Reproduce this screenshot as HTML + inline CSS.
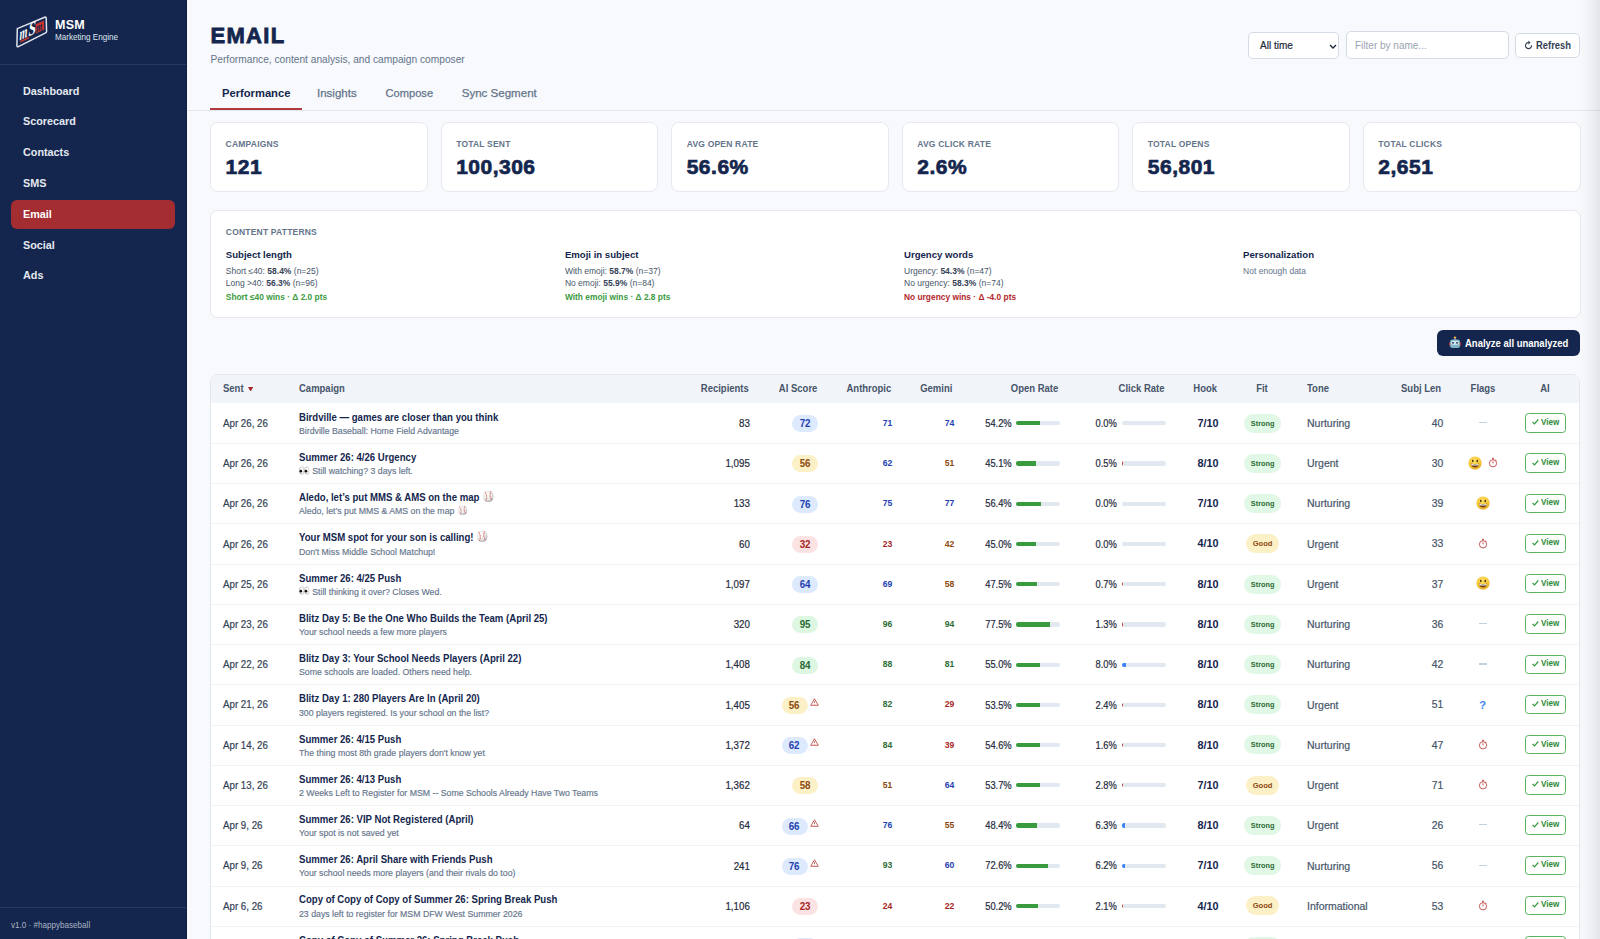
<!DOCTYPE html><html><head><meta charset="utf-8"><style>
*{box-sizing:border-box;margin:0;padding:0}
html,body{width:1600px;height:939px;overflow:hidden}
body{background:#f7f9fc;font-family:"Liberation Sans", sans-serif;position:relative;color:#1e293b}
.a{position:absolute;white-space:nowrap}
.sb{position:absolute;left:0;top:0;width:187px;height:939px;background:#14264d;border-right:1px solid #0f1f42}
.nav{position:absolute;left:11px;width:164px;height:29px;border-radius:6px;color:#e4e9f1;font-weight:700;font-size:10.8px}
.nav span{position:absolute;left:12px}
.nav.act{background:#a42d31;color:#fff}
.card{position:absolute;background:#fff;border:1px solid #e6eaf0;border-radius:8px}
.lbl{font-size:8.5px;font-weight:700;letter-spacing:0.2px;color:#64748b}
.val{font-size:21px;font-weight:700;letter-spacing:0.5px;color:#14264d;-webkit-text-stroke:0.7px #14264d}
.pt{font-size:9.6px;font-weight:700;color:#14264d}
.pl{font-size:8.5px;color:#475569}
.pl b{color:#334155}
.th{font-size:9.5px;font-weight:700;color:#475569}
.r{text-align:right}
</style></head><body>
<div class="sb"></div>
<svg class="a" style="left:0;top:0" width="60" height="60" viewBox="0 0 60 60">
<path d="M17.3 28.6 L44.6 17.2 Q46 16.8 46.2 18.2 L46.6 31.4 Q46.6 32.4 45.6 32.8 L18.4 46.6 Q16.8 47.3 16.9 45.6 Z" fill="#14264d" stroke="#dfe4ee" stroke-width="1.5" stroke-linejoin="round"/>
<text transform="translate(19.6,40.5) skewY(-26) scale(0.85,1.45)" font-family="Liberation Serif" font-style="italic" font-weight="700" font-size="12" fill="#fff">m</text>
<text transform="translate(28.6,36.5) skewY(-26) scale(0.8,1.1)" font-family="Liberation Serif" font-style="italic" font-weight="700" font-size="17" fill="#fff">S</text>
<path d="M35.6 24.2 L44 20.4 L44.3 29.6 L35.9 33.6 Z" fill="#c8352e"/>
<text transform="translate(36,32.2) skewY(-26) scale(0.8,1.2)" font-family="Liberation Serif" font-style="italic" font-weight="700" font-size="10" fill="#14264d">m</text>
<path d="M20.5 40.8 L29.5 36.4 L29 38.4 L20.2 42.8 Z" fill="#c8352e"/>
</svg>
<div class="a " style="left:55.00px;top:18.62px;font-size:12.5px;line-height:12.5px;color:#fff;font-weight:700;letter-spacing:0.3px">MSM</div>
<div class="a " style="left:55.00px;top:33.29px;font-size:8.748px;line-height:8.748px;transform:scaleX(0.9259);transform-origin:0 50%;color:#dfe5ee">Marketing Engine</div>
<div class="a" style="left:0;top:64px;width:186px;height:1px;background:#2a3a5e"></div>
<div class="nav" style="top:76.80px"><span style="top:8.76px;line-height:10.8px">Dashboard</span></div>
<div class="nav" style="top:107.60px"><span style="top:8.76px;line-height:10.8px">Scorecard</span></div>
<div class="nav" style="top:138.40px"><span style="top:8.76px;line-height:10.8px">Contacts</span></div>
<div class="nav" style="top:169.20px"><span style="top:8.76px;line-height:10.8px">SMS</span></div>
<div class="nav act" style="top:200.00px"><span style="top:8.76px;line-height:10.8px">Email</span></div>
<div class="nav" style="top:230.80px"><span style="top:8.76px;line-height:10.8px">Social</span></div>
<div class="nav" style="top:261.60px"><span style="top:8.76px;line-height:10.8px">Ads</span></div>
<div class="a" style="left:0;top:907px;width:186px;height:1px;background:#2a3a5e"></div>
<div class="a " style="left:11.00px;top:920.72px;font-size:9.072px;line-height:9.072px;transform:scaleX(0.8929);transform-origin:0 50%;color:#aab3c5">v1.0 · #happybaseball</div>
<div class="a " style="left:210.50px;top:25.28px;font-size:22.0px;line-height:22.0px;font-weight:700;color:#14264d;letter-spacing:1.3px;-webkit-text-stroke:0.8px #14264d">EMAIL</div>
<div class="a " style="left:210.50px;top:55.07px;font-size:10.2px;line-height:10.2px;color:#64748b">Performance, content analysis, and campaign composer</div>
<div class="a" style="left:1248px;top:32px;width:91px;height:26.5px;background:#fff;border:1px solid #d5dbe5;border-radius:5px"></div>
<div class="a " style="left:1260.00px;top:40.53px;font-size:10.0px;line-height:10.0px;color:#1e293b;-webkit-text-stroke:0.2px #1e293b">All time</div>
<svg class="a" style="left:1328.8px;top:43.6px" width="8" height="5" viewBox="0 0 8 5"><path d="M1 1 L4 4 L7 1" fill="none" stroke="#1e293b" stroke-width="1.4"/></svg>
<div class="a" style="left:1345.5px;top:31.2px;width:163.5px;height:28px;background:#fff;border:1px solid #d5dbe5;border-radius:5px"></div>
<div class="a " style="left:1355.00px;top:40.53px;font-size:10.0px;line-height:10.0px;color:#9aa3b2">Filter by name...</div>
<div class="a" style="left:1515px;top:33px;width:65px;height:24.5px;background:#fff;border:1px solid #d5dbe5;border-radius:5px"></div>
<svg class="a" style="left:1524px;top:40px" width="10" height="10" viewBox="0 0 10 10"><path d="M4.6 2.6 A3 3 0 1 0 7.5 5.3" fill="none" stroke="#334155" stroke-width="1.15"/><path d="M4.3 0.5 L6.5 2.6 L4.3 4.7 Z" fill="#334155"/></svg>
<div class="a " style="left:1535.80px;top:41.29px;font-size:10.058px;line-height:10.058px;transform:scaleX(0.9346);transform-origin:0 50%;color:#334155;font-weight:700">Refresh</div>
<div class="a" style="left:187px;top:110px;width:1413px;height:1px;background:#e3e7ee"></div>
<div class="a" style="left:210.3px;top:108px;width:92px;height:2px;background:#b03a3e"></div>
<div class="a " style="left:222.00px;top:88.02px;font-size:11.2px;line-height:11.2px;font-weight:700;color:#14264d">Performance</div>
<div class="a " style="left:317.00px;top:87.77px;font-size:11.5px;line-height:11.5px;color:#64748b;-webkit-text-stroke:0.25px #64748b">Insights</div>
<div class="a " style="left:385.60px;top:88.10px;font-size:11.1px;line-height:11.1px;color:#64748b;-webkit-text-stroke:0.25px #64748b">Compose</div>
<div class="a " style="left:461.70px;top:87.72px;font-size:11.55px;line-height:11.55px;color:#64748b;-webkit-text-stroke:0.25px #64748b">Sync Segment</div>
<div class="card" style="left:210.00px;top:122.2px;width:217.75px;height:70.2px"></div>
<div class="a lbl" style="left:225.60px;top:139.70px;font-size:8.5px;line-height:8.5px;">CAMPAIGNS</div>
<div class="a val" style="left:225.60px;top:155.97px;font-size:21.0px;line-height:21.0px;">121</div>
<div class="card" style="left:440.55px;top:122.2px;width:217.75px;height:70.2px"></div>
<div class="a lbl" style="left:456.15px;top:139.70px;font-size:8.5px;line-height:8.5px;">TOTAL SENT</div>
<div class="a val" style="left:456.15px;top:155.97px;font-size:21.0px;line-height:21.0px;">100,306</div>
<div class="card" style="left:671.10px;top:122.2px;width:217.75px;height:70.2px"></div>
<div class="a lbl" style="left:686.70px;top:139.70px;font-size:8.5px;line-height:8.5px;">AVG OPEN RATE</div>
<div class="a val" style="left:686.70px;top:155.97px;font-size:21.0px;line-height:21.0px;">56.6%</div>
<div class="card" style="left:901.65px;top:122.2px;width:217.75px;height:70.2px"></div>
<div class="a lbl" style="left:917.25px;top:139.70px;font-size:8.5px;line-height:8.5px;">AVG CLICK RATE</div>
<div class="a val" style="left:917.25px;top:155.97px;font-size:21.0px;line-height:21.0px;">2.6%</div>
<div class="card" style="left:1132.20px;top:122.2px;width:217.75px;height:70.2px"></div>
<div class="a lbl" style="left:1147.80px;top:139.70px;font-size:8.5px;line-height:8.5px;">TOTAL OPENS</div>
<div class="a val" style="left:1147.80px;top:155.97px;font-size:21.0px;line-height:21.0px;">56,801</div>
<div class="card" style="left:1362.75px;top:122.2px;width:217.75px;height:70.2px"></div>
<div class="a lbl" style="left:1378.35px;top:139.70px;font-size:8.5px;line-height:8.5px;">TOTAL CLICKS</div>
<div class="a val" style="left:1378.35px;top:155.97px;font-size:21.0px;line-height:21.0px;">2,651</div>
<div class="card" style="left:210px;top:210px;width:1370.5px;height:107.8px"></div>
<div class="a lbl" style="left:225.80px;top:227.80px;font-size:8.5px;line-height:8.5px;">CONTENT PATTERNS</div>
<div class="a pt" style="left:225.80px;top:249.77px;font-size:9.6px;line-height:9.6px;">Subject length</div>
<div class="a pl" style="left:225.80px;top:266.90px;font-size:8.5px;line-height:8.5px;color:#475569">Short ≤40: <b>58.4%</b> (n=25)</div>
<div class="a pl" style="left:225.80px;top:278.50px;font-size:8.5px;line-height:8.5px;color:#475569">Long &gt;40: <b>56.3%</b> (n=96)</div>
<div class="a " style="left:225.80px;top:292.89px;font-size:8.4px;line-height:8.4px;font-weight:700;color:#3a9b3e">Short ≤40 wins · Δ 2.0 pts</div>
<div class="a pt" style="left:564.90px;top:249.77px;font-size:9.6px;line-height:9.6px;">Emoji in subject</div>
<div class="a pl" style="left:564.90px;top:266.90px;font-size:8.5px;line-height:8.5px;color:#475569">With emoji: <b>58.7%</b> (n=37)</div>
<div class="a pl" style="left:564.90px;top:278.50px;font-size:8.5px;line-height:8.5px;color:#475569">No emoji: <b>55.9%</b> (n=84)</div>
<div class="a " style="left:564.90px;top:292.89px;font-size:8.4px;line-height:8.4px;font-weight:700;color:#3a9b3e">With emoji wins · Δ 2.8 pts</div>
<div class="a pt" style="left:904.00px;top:249.77px;font-size:9.6px;line-height:9.6px;">Urgency words</div>
<div class="a pl" style="left:904.00px;top:266.90px;font-size:8.5px;line-height:8.5px;color:#475569">Urgency: <b>54.3%</b> (n=47)</div>
<div class="a pl" style="left:904.00px;top:278.50px;font-size:8.5px;line-height:8.5px;color:#475569">No urgency: <b>58.3%</b> (n=74)</div>
<div class="a " style="left:904.00px;top:292.89px;font-size:8.4px;line-height:8.4px;font-weight:700;color:#b3262b">No urgency wins · Δ -4.0 pts</div>
<div class="a pt" style="left:1243.10px;top:249.77px;font-size:9.6px;line-height:9.6px;">Personalization</div>
<div class="a pl" style="left:1243.10px;top:266.90px;font-size:8.5px;line-height:8.5px;color:#64748b">Not enough data</div>
<div class="a" style="left:1437px;top:330px;width:143px;height:26px;background:#14264d;border-radius:6px"></div>
<svg class="a" style="left:1449px;top:336px" width="12" height="13" viewBox="0 0 12 13">
<circle cx="6" cy="1.6" r="1.2" fill="#f5b73b"/><rect x="5.5" y="2" width="1" height="2" fill="#9aa"/>
<rect x="1" y="3.5" width="10" height="8.5" rx="2.5" fill="#7fb5c9"/><rect x="2.2" y="4.8" width="7.6" height="4" rx="1.5" fill="#cfe6ef"/>
<circle cx="4" cy="6.8" r="0.9" fill="#14264d"/><circle cx="8" cy="6.8" r="0.9" fill="#14264d"/><rect x="0" y="6.5" width="1.2" height="3" fill="#c0392b"/><rect x="10.8" y="6.5" width="1.2" height="3" fill="#c0392b"/></svg>
<div class="a " style="left:1464.70px;top:338.61px;font-size:10.26px;line-height:10.26px;transform:scaleX(0.9259);transform-origin:0 50%;color:#fff;font-weight:700">Analyze all unanalyzed</div>
<div class="a" style="left:210px;top:374.0px;width:1369.5px;height:575.0px;background:#fff;border:1px solid #e3e8ef;border-radius:8px;overflow:hidden"><div style="height:28.3px;background:#f1f4f9"></div></div>
<div class="a th" style="left:222.90px;top:383.75px;font-size:10.45px;line-height:10.45px;transform:scaleX(0.9091);transform-origin:0 50%;">Sent</div>
<svg class="a" style="left:248px;top:386.8px" width="5.2" height="4.6" viewBox="0 0 5.2 4.6"><path d="M0 0 H5.2 L2.6 4.6 Z" fill="#a52626"/></svg>
<div class="a th" style="left:299.00px;top:383.75px;font-size:10.45px;line-height:10.45px;transform:scaleX(0.9091);transform-origin:0 50%;">Campaign</div>
<div class="a th" style="right:851.40px;top:383.75px;font-size:10.45px;line-height:10.45px;transform:scaleX(0.9091);transform-origin:100% 50%;">Recipients</div>
<div class="a th" style="right:783.00px;top:383.75px;font-size:10.45px;line-height:10.45px;transform:scaleX(0.9091);transform-origin:100% 50%;">AI Score</div>
<div class="a th" style="right:709.00px;top:383.75px;font-size:10.45px;line-height:10.45px;transform:scaleX(0.9091);transform-origin:100% 50%;">Anthropic</div>
<div class="a th" style="right:647.50px;top:383.75px;font-size:10.45px;line-height:10.45px;transform:scaleX(0.9091);transform-origin:100% 50%;">Gemini</div>
<div class="a th" style="right:541.50px;top:383.75px;font-size:10.45px;line-height:10.45px;transform:scaleX(0.9091);transform-origin:100% 50%;">Open Rate</div>
<div class="a th" style="right:436.00px;top:383.75px;font-size:10.45px;line-height:10.45px;transform:scaleX(0.9091);transform-origin:100% 50%;">Click Rate</div>
<div class="a th" style="right:383.00px;top:383.75px;font-size:10.45px;line-height:10.45px;transform:scaleX(0.9091);transform-origin:100% 50%;">Hook</div>
<div class="a th" style="left:1232.00px;width:60px;text-align:center;top:383.75px;font-size:10.45px;line-height:10.45px;transform:scaleX(0.9091);transform-origin:50% 50%;">Fit</div>
<div class="a th" style="left:1307.00px;top:383.75px;font-size:10.45px;line-height:10.45px;transform:scaleX(0.9091);transform-origin:0 50%;">Tone</div>
<div class="a th" style="right:158.70px;top:383.75px;font-size:10.45px;line-height:10.45px;transform:scaleX(0.9091);transform-origin:100% 50%;">Subj Len</div>
<div class="a th" style="left:1453.00px;width:60px;text-align:center;top:383.75px;font-size:10.45px;line-height:10.45px;transform:scaleX(0.9091);transform-origin:50% 50%;">Flags</div>
<div class="a th" style="left:1515.30px;width:60px;text-align:center;top:383.75px;font-size:10.45px;line-height:10.45px;transform:scaleX(0.9091);transform-origin:50% 50%;">AI</div>
<div class="a " style="left:222.90px;top:417.82px;font-size:10.725px;line-height:10.725px;transform:scaleX(0.9091);transform-origin:0 50%;color:#334155;-webkit-text-stroke:0.2px #334155">Apr 26, 26</div>
<div class="a " style="left:299.00px;top:410.71px;font-size:10.656px;line-height:12px;transform:scaleX(0.9009);transform-origin:0 50%;font-weight:700;color:#14264d">Birdville — games are closer than you think</div>
<div class="a " style="left:299.00px;top:425.95px;font-size:9.1px;line-height:11px;transform:scaleX(0.9615);transform-origin:0 50%;color:#64748b;-webkit-text-stroke:0.15px #64748b">Birdville Baseball: Home Field Advantage</div>
<div class="a " style="right:849.80px;top:418.02px;font-size:10.725px;line-height:10.725px;transform:scaleX(0.9091);transform-origin:100% 50%;color:#1e293b;-webkit-text-stroke:0.2px #1e293b">83</div>
<div class="a" style="left:792.40px;top:415.22px;width:26px;height:17px;border-radius:8.5px;background:#dde9fd;color:#1f3fae;font-size:11px;font-weight:700;line-height:17px;text-align:center"><span style="display:inline-block;transform:scaleX(0.89)">72</span></div>
<div class="a " style="right:707.50px;top:418.84px;font-size:9.288px;line-height:9.288px;transform:scaleX(0.9259);transform-origin:100% 50%;font-weight:700;color:#2340b0">71</div>
<div class="a " style="right:646.00px;top:418.84px;font-size:9.288px;line-height:9.288px;transform:scaleX(0.9259);transform-origin:100% 50%;font-weight:700;color:#2340b0">74</div>
<div class="a " style="right:588.70px;top:418.94px;font-size:10.472px;line-height:10.472px;transform:scaleX(0.8929);transform-origin:100% 50%;color:#1e293b;-webkit-text-stroke:0.2px #1e293b">54.2%</div>
<div class="a" style="left:1016.2px;top:421.12px;width:44px;height:4.3px;border-radius:2.2px;background:#e2e8f0;overflow:hidden"><div style="width:23.85px;height:100%;background:#3a9b3e"></div></div>
<div class="a " style="right:482.70px;top:418.94px;font-size:10.472px;line-height:10.472px;transform:scaleX(0.8929);transform-origin:100% 50%;color:#1e293b;-webkit-text-stroke:0.2px #1e293b">0.0%</div>
<div class="a" style="left:1122px;top:421.12px;width:44px;height:4.3px;border-radius:2.2px;background:#e2e8f0;overflow:hidden"><div style="width:0.00px;height:100%;background:#c0392b"></div></div>
<div class="a " style="right:381.60px;top:417.76px;font-size:10.8px;line-height:10.8px;font-weight:700;color:#14264d">7/10</div>
<div class="a" style="left:1244px;top:413.62px;width:37.2px;height:19px;border-radius:9.5px;background:#e0f8e5;color:#2c6b34;font-size:7.3px;font-weight:700;line-height:19px;text-align:center">Strong</div>
<div class="a " style="left:1307.00px;top:418.01px;font-size:10.5px;line-height:10.5px;color:#475569;-webkit-text-stroke:0.2px #475569">Nurturing</div>
<div class="a " style="right:156.80px;top:418.80px;font-size:10.4px;line-height:10.4px;color:#475569;-webkit-text-stroke:0.2px #475569">40</div>
<div class="a" style="left:1479px;top:422.02px;width:8px;height:1.2px;background:#c5cfdc"></div>
<div class="a" style="left:1525.2px;top:413.12px;width:40.6px;height:19.4px;border:1px solid #5cb25f;border-radius:3.5px"></div>
<svg class="a" style="left:1531.8px;top:419.42px" width="7" height="6" viewBox="0 0 7 6"><path d="M0.6 3.0 L2.5 4.9 L6.3 0.5" fill="none" stroke="#3a9a40" stroke-width="1.25"/></svg>
<div class="a " style="left:1541.00px;top:417.71px;font-size:8.748px;line-height:8.748px;transform:scaleX(0.9259);transform-origin:0 50%;font-weight:700;color:#2e8b36">View</div>
<div class="a" style="left:211px;top:443.03px;width:1367.5px;height:1px;background:#eff2f6"></div>
<div class="a " style="left:222.90px;top:458.05px;font-size:10.725px;line-height:10.725px;transform:scaleX(0.9091);transform-origin:0 50%;color:#334155;-webkit-text-stroke:0.2px #334155">Apr 26, 26</div>
<div class="a " style="left:299.00px;top:450.94px;font-size:10.656px;line-height:12px;transform:scaleX(0.9009);transform-origin:0 50%;font-weight:700;color:#14264d">Summer 26: 4/26 Urgency</div>
<div class="a " style="left:299.00px;top:466.18px;font-size:9.1px;line-height:11px;transform:scaleX(0.9615);transform-origin:0 50%;color:#64748b;-webkit-text-stroke:0.15px #64748b"><span style="display:inline-block;width:11.2px;height:1px;position:relative"><svg width="11" height="9" viewBox="0 0 11 9" style="position:absolute;left:0;top:-7.6px"><defs><radialGradient id="eg" cx="0.6" cy="0.35" r="0.75"><stop offset="0" stop-color="#fff"/><stop offset="0.75" stop-color="#f1f1f1"/><stop offset="1" stop-color="#bdbdbd"/></radialGradient></defs><ellipse cx="2.8" cy="4.5" rx="2.5" ry="3.9" fill="url(#eg)" stroke="#9e9e9e" stroke-width="0.45"/><ellipse cx="8.2" cy="4.5" rx="2.5" ry="3.9" fill="url(#eg)" stroke="#9e9e9e" stroke-width="0.45"/><circle cx="1.9" cy="5.2" r="1.35" fill="#1c120a"/><circle cx="7.3" cy="5.2" r="1.35" fill="#1c120a"/></svg></span> Still watching? 3 days left.</div>
<div class="a " style="right:849.80px;top:458.25px;font-size:10.725px;line-height:10.725px;transform:scaleX(0.9091);transform-origin:100% 50%;color:#1e293b;-webkit-text-stroke:0.2px #1e293b">1,095</div>
<div class="a" style="left:792.40px;top:455.45px;width:26px;height:17px;border-radius:8.5px;background:#fcf0c6;color:#8b4a12;font-size:11px;font-weight:700;line-height:17px;text-align:center"><span style="display:inline-block;transform:scaleX(0.89)">56</span></div>
<div class="a " style="right:707.50px;top:459.07px;font-size:9.288px;line-height:9.288px;transform:scaleX(0.9259);transform-origin:100% 50%;font-weight:700;color:#2340b0">62</div>
<div class="a " style="right:646.00px;top:459.07px;font-size:9.288px;line-height:9.288px;transform:scaleX(0.9259);transform-origin:100% 50%;font-weight:700;color:#8b4a12">51</div>
<div class="a " style="right:588.70px;top:459.17px;font-size:10.472px;line-height:10.472px;transform:scaleX(0.8929);transform-origin:100% 50%;color:#1e293b;-webkit-text-stroke:0.2px #1e293b">45.1%</div>
<div class="a" style="left:1016.2px;top:461.35px;width:44px;height:4.3px;border-radius:2.2px;background:#e2e8f0;overflow:hidden"><div style="width:19.84px;height:100%;background:#3a9b3e"></div></div>
<div class="a " style="right:482.70px;top:459.17px;font-size:10.472px;line-height:10.472px;transform:scaleX(0.8929);transform-origin:100% 50%;color:#1e293b;-webkit-text-stroke:0.2px #1e293b">0.5%</div>
<div class="a" style="left:1122px;top:461.35px;width:44px;height:4.3px;border-radius:2.2px;background:#e2e8f0;overflow:hidden"><div style="width:1.20px;height:100%;background:#c0392b"></div></div>
<div class="a " style="right:381.60px;top:457.99px;font-size:10.8px;line-height:10.8px;font-weight:700;color:#14264d">8/10</div>
<div class="a" style="left:1244px;top:453.85px;width:37.2px;height:19px;border-radius:9.5px;background:#e0f8e5;color:#2c6b34;font-size:7.3px;font-weight:700;line-height:19px;text-align:center">Strong</div>
<div class="a " style="left:1307.00px;top:458.24px;font-size:10.5px;line-height:10.5px;color:#475569;-webkit-text-stroke:0.2px #475569">Urgent</div>
<div class="a " style="right:156.80px;top:459.03px;font-size:10.4px;line-height:10.4px;color:#475569;-webkit-text-stroke:0.2px #475569">30</div>
<div class="a" style="left:1468.2px;top:455.65px;line-height:0"><svg width="14" height="14" viewBox="0 0 14 14"><defs><radialGradient id="sg" cx="0.45" cy="0.35" r="0.7"><stop offset="0" stop-color="#ffe26a"/><stop offset="0.7" stop-color="#f6c431"/><stop offset="1" stop-color="#e09a1a"/></radialGradient></defs><circle cx="7" cy="7" r="6.6" fill="url(#sg)"/><ellipse cx="4.8" cy="5" rx="0.9" ry="1.3" fill="#5a3a10"/><ellipse cx="9.2" cy="5" rx="0.9" ry="1.3" fill="#5a3a10"/><path d="M2.8 7.6 Q7 8.6 11.2 7.6 Q10.6 11.6 7 11.6 Q3.4 11.6 2.8 7.6 Z" fill="#6b3d12"/><path d="M3.3 8 Q7 8.9 10.7 8 L10.5 9.2 Q7 9.9 3.5 9.2 Z" fill="#fff"/></svg></div>
<div class="a" style="left:1488px;top:457.15px;line-height:0"><svg width="10" height="11" viewBox="0 0 10 11"><circle cx="5" cy="6.3" r="3.6" fill="none" stroke="#c0504d" stroke-width="0.95"/><path d="M4 1.3 H6 M5 1.3 V2.6 M5 4.3 V6.4 M7.6 2.6 L8.4 3.4" stroke="#c0504d" stroke-width="1"/></svg></div>
<div class="a" style="left:1525.2px;top:453.35px;width:40.6px;height:19.4px;border:1px solid #5cb25f;border-radius:3.5px"></div>
<svg class="a" style="left:1531.8px;top:459.65px" width="7" height="6" viewBox="0 0 7 6"><path d="M0.6 3.0 L2.5 4.9 L6.3 0.5" fill="none" stroke="#3a9a40" stroke-width="1.25"/></svg>
<div class="a " style="left:1541.00px;top:457.94px;font-size:8.748px;line-height:8.748px;transform:scaleX(0.9259);transform-origin:0 50%;font-weight:700;color:#2e8b36">View</div>
<div class="a" style="left:211px;top:483.26px;width:1367.5px;height:1px;background:#eff2f6"></div>
<div class="a " style="left:222.90px;top:498.28px;font-size:10.725px;line-height:10.725px;transform:scaleX(0.9091);transform-origin:0 50%;color:#334155;-webkit-text-stroke:0.2px #334155">Apr 26, 26</div>
<div class="a " style="left:299.00px;top:491.17px;font-size:10.656px;line-height:12px;transform:scaleX(0.9009);transform-origin:0 50%;font-weight:700;color:#14264d">Aledo, let’s put MMS &amp; AMS on the map <span style="display:inline-block;width:13.1px;height:1px;position:relative"><svg width="12.5" height="12.5" viewBox="0 0 12 12" style="position:absolute;left:0.6px;top:-10.5px"><defs><radialGradient id="bg125" cx="0.4" cy="0.35" r="0.7"><stop offset="0" stop-color="#ffffff"/><stop offset="0.6" stop-color="#e9e9e9"/><stop offset="1" stop-color="#a9a9a9"/></radialGradient></defs><circle cx="6" cy="6" r="5.7" fill="url(#bg125)"/><path d="M2.2 1.8 Q5.4 5.6 3.2 10.6 M8.6 1.2 Q6.4 6.2 9.9 10" fill="none" stroke="#cf3b2f" stroke-width="0.9" stroke-dasharray="1 0.6"/></svg></span></div>
<div class="a " style="left:299.00px;top:506.41px;font-size:9.1px;line-height:11px;transform:scaleX(0.9615);transform-origin:0 50%;color:#64748b;-webkit-text-stroke:0.15px #64748b">Aledo, let’s put MMS &amp; AMS on the map <span style="display:inline-block;width:11.3px;height:1px;position:relative"><svg width="10.5" height="10.5" viewBox="0 0 12 12" style="position:absolute;left:0.8px;top:-8.5px"><defs><radialGradient id="bg105" cx="0.4" cy="0.35" r="0.7"><stop offset="0" stop-color="#ffffff"/><stop offset="0.6" stop-color="#e9e9e9"/><stop offset="1" stop-color="#a9a9a9"/></radialGradient></defs><circle cx="6" cy="6" r="5.7" fill="url(#bg105)"/><path d="M2.2 1.8 Q5.4 5.6 3.2 10.6 M8.6 1.2 Q6.4 6.2 9.9 10" fill="none" stroke="#cf3b2f" stroke-width="0.9" stroke-dasharray="1 0.6"/></svg></span></div>
<div class="a " style="right:849.80px;top:498.48px;font-size:10.725px;line-height:10.725px;transform:scaleX(0.9091);transform-origin:100% 50%;color:#1e293b;-webkit-text-stroke:0.2px #1e293b">133</div>
<div class="a" style="left:792.40px;top:495.68px;width:26px;height:17px;border-radius:8.5px;background:#dde9fd;color:#1f3fae;font-size:11px;font-weight:700;line-height:17px;text-align:center"><span style="display:inline-block;transform:scaleX(0.89)">76</span></div>
<div class="a " style="right:707.50px;top:499.30px;font-size:9.288px;line-height:9.288px;transform:scaleX(0.9259);transform-origin:100% 50%;font-weight:700;color:#2340b0">75</div>
<div class="a " style="right:646.00px;top:499.30px;font-size:9.288px;line-height:9.288px;transform:scaleX(0.9259);transform-origin:100% 50%;font-weight:700;color:#2340b0">77</div>
<div class="a " style="right:588.70px;top:499.40px;font-size:10.472px;line-height:10.472px;transform:scaleX(0.8929);transform-origin:100% 50%;color:#1e293b;-webkit-text-stroke:0.2px #1e293b">56.4%</div>
<div class="a" style="left:1016.2px;top:501.57px;width:44px;height:4.3px;border-radius:2.2px;background:#e2e8f0;overflow:hidden"><div style="width:24.82px;height:100%;background:#3a9b3e"></div></div>
<div class="a " style="right:482.70px;top:499.40px;font-size:10.472px;line-height:10.472px;transform:scaleX(0.8929);transform-origin:100% 50%;color:#1e293b;-webkit-text-stroke:0.2px #1e293b">0.0%</div>
<div class="a" style="left:1122px;top:501.57px;width:44px;height:4.3px;border-radius:2.2px;background:#e2e8f0;overflow:hidden"><div style="width:0.00px;height:100%;background:#c0392b"></div></div>
<div class="a " style="right:381.60px;top:498.22px;font-size:10.8px;line-height:10.8px;font-weight:700;color:#14264d">7/10</div>
<div class="a" style="left:1244px;top:494.07px;width:37.2px;height:19px;border-radius:9.5px;background:#e0f8e5;color:#2c6b34;font-size:7.3px;font-weight:700;line-height:19px;text-align:center">Strong</div>
<div class="a " style="left:1307.00px;top:498.47px;font-size:10.5px;line-height:10.5px;color:#475569;-webkit-text-stroke:0.2px #475569">Nurturing</div>
<div class="a " style="right:156.80px;top:499.26px;font-size:10.4px;line-height:10.4px;color:#475569;-webkit-text-stroke:0.2px #475569">39</div>
<div class="a" style="left:1476.2px;top:495.88px;line-height:0"><svg width="14" height="14" viewBox="0 0 14 14"><defs><radialGradient id="sg" cx="0.45" cy="0.35" r="0.7"><stop offset="0" stop-color="#ffe26a"/><stop offset="0.7" stop-color="#f6c431"/><stop offset="1" stop-color="#e09a1a"/></radialGradient></defs><circle cx="7" cy="7" r="6.6" fill="url(#sg)"/><ellipse cx="4.8" cy="5" rx="0.9" ry="1.3" fill="#5a3a10"/><ellipse cx="9.2" cy="5" rx="0.9" ry="1.3" fill="#5a3a10"/><path d="M2.8 7.6 Q7 8.6 11.2 7.6 Q10.6 11.6 7 11.6 Q3.4 11.6 2.8 7.6 Z" fill="#6b3d12"/><path d="M3.3 8 Q7 8.9 10.7 8 L10.5 9.2 Q7 9.9 3.5 9.2 Z" fill="#fff"/></svg></div>
<div class="a" style="left:1525.2px;top:493.57px;width:40.6px;height:19.4px;border:1px solid #5cb25f;border-radius:3.5px"></div>
<svg class="a" style="left:1531.8px;top:499.88px" width="7" height="6" viewBox="0 0 7 6"><path d="M0.6 3.0 L2.5 4.9 L6.3 0.5" fill="none" stroke="#3a9a40" stroke-width="1.25"/></svg>
<div class="a " style="left:1541.00px;top:498.17px;font-size:8.748px;line-height:8.748px;transform:scaleX(0.9259);transform-origin:0 50%;font-weight:700;color:#2e8b36">View</div>
<div class="a" style="left:211px;top:523.49px;width:1367.5px;height:1px;background:#eff2f6"></div>
<div class="a " style="left:222.90px;top:538.51px;font-size:10.725px;line-height:10.725px;transform:scaleX(0.9091);transform-origin:0 50%;color:#334155;-webkit-text-stroke:0.2px #334155">Apr 26, 26</div>
<div class="a " style="left:299.00px;top:531.40px;font-size:10.656px;line-height:12px;transform:scaleX(0.9009);transform-origin:0 50%;font-weight:700;color:#14264d">Your MSM spot for your son is calling! <span style="display:inline-block;width:13.1px;height:1px;position:relative"><svg width="12.5" height="12.5" viewBox="0 0 12 12" style="position:absolute;left:0.6px;top:-10.5px"><defs><radialGradient id="bg125" cx="0.4" cy="0.35" r="0.7"><stop offset="0" stop-color="#ffffff"/><stop offset="0.6" stop-color="#e9e9e9"/><stop offset="1" stop-color="#a9a9a9"/></radialGradient></defs><circle cx="6" cy="6" r="5.7" fill="url(#bg125)"/><path d="M2.2 1.8 Q5.4 5.6 3.2 10.6 M8.6 1.2 Q6.4 6.2 9.9 10" fill="none" stroke="#cf3b2f" stroke-width="0.9" stroke-dasharray="1 0.6"/></svg></span></div>
<div class="a " style="left:299.00px;top:546.64px;font-size:9.1px;line-height:11px;transform:scaleX(0.9615);transform-origin:0 50%;color:#64748b;-webkit-text-stroke:0.15px #64748b">Don't Miss Middle School Matchup!</div>
<div class="a " style="right:849.80px;top:538.71px;font-size:10.725px;line-height:10.725px;transform:scaleX(0.9091);transform-origin:100% 50%;color:#1e293b;-webkit-text-stroke:0.2px #1e293b">60</div>
<div class="a" style="left:792.40px;top:535.90px;width:26px;height:17px;border-radius:8.5px;background:#fbe3e3;color:#a52626;font-size:11px;font-weight:700;line-height:17px;text-align:center"><span style="display:inline-block;transform:scaleX(0.89)">32</span></div>
<div class="a " style="right:707.50px;top:539.53px;font-size:9.288px;line-height:9.288px;transform:scaleX(0.9259);transform-origin:100% 50%;font-weight:700;color:#a52626">23</div>
<div class="a " style="right:646.00px;top:539.53px;font-size:9.288px;line-height:9.288px;transform:scaleX(0.9259);transform-origin:100% 50%;font-weight:700;color:#8b4a12">42</div>
<div class="a " style="right:588.70px;top:539.63px;font-size:10.472px;line-height:10.472px;transform:scaleX(0.8929);transform-origin:100% 50%;color:#1e293b;-webkit-text-stroke:0.2px #1e293b">45.0%</div>
<div class="a" style="left:1016.2px;top:541.81px;width:44px;height:4.3px;border-radius:2.2px;background:#e2e8f0;overflow:hidden"><div style="width:19.80px;height:100%;background:#3a9b3e"></div></div>
<div class="a " style="right:482.70px;top:539.63px;font-size:10.472px;line-height:10.472px;transform:scaleX(0.8929);transform-origin:100% 50%;color:#1e293b;-webkit-text-stroke:0.2px #1e293b">0.0%</div>
<div class="a" style="left:1122px;top:541.81px;width:44px;height:4.3px;border-radius:2.2px;background:#e2e8f0;overflow:hidden"><div style="width:0.00px;height:100%;background:#c0392b"></div></div>
<div class="a " style="right:381.60px;top:538.45px;font-size:10.8px;line-height:10.8px;font-weight:700;color:#14264d">4/10</div>
<div class="a" style="left:1246.2px;top:534.31px;width:32.8px;height:19px;border-radius:9.5px;background:#fcf0c6;color:#8b4a12;font-size:7.6px;font-weight:700;line-height:19px;text-align:center">Good</div>
<div class="a " style="left:1307.00px;top:538.70px;font-size:10.5px;line-height:10.5px;color:#475569;-webkit-text-stroke:0.2px #475569">Urgent</div>
<div class="a " style="right:156.80px;top:539.49px;font-size:10.4px;line-height:10.4px;color:#475569;-webkit-text-stroke:0.2px #475569">33</div>
<div class="a" style="left:1478px;top:537.61px;line-height:0"><svg width="10" height="11" viewBox="0 0 10 11"><circle cx="5" cy="6.3" r="3.6" fill="none" stroke="#c0504d" stroke-width="0.95"/><path d="M4 1.3 H6 M5 1.3 V2.6 M5 4.3 V6.4 M7.6 2.6 L8.4 3.4" stroke="#c0504d" stroke-width="1"/></svg></div>
<div class="a" style="left:1525.2px;top:533.81px;width:40.6px;height:19.4px;border:1px solid #5cb25f;border-radius:3.5px"></div>
<svg class="a" style="left:1531.8px;top:540.11px" width="7" height="6" viewBox="0 0 7 6"><path d="M0.6 3.0 L2.5 4.9 L6.3 0.5" fill="none" stroke="#3a9a40" stroke-width="1.25"/></svg>
<div class="a " style="left:1541.00px;top:538.40px;font-size:8.748px;line-height:8.748px;transform:scaleX(0.9259);transform-origin:0 50%;font-weight:700;color:#2e8b36">View</div>
<div class="a" style="left:211px;top:563.72px;width:1367.5px;height:1px;background:#eff2f6"></div>
<div class="a " style="left:222.90px;top:578.74px;font-size:10.725px;line-height:10.725px;transform:scaleX(0.9091);transform-origin:0 50%;color:#334155;-webkit-text-stroke:0.2px #334155">Apr 25, 26</div>
<div class="a " style="left:299.00px;top:571.63px;font-size:10.656px;line-height:12px;transform:scaleX(0.9009);transform-origin:0 50%;font-weight:700;color:#14264d">Summer 26: 4/25 Push</div>
<div class="a " style="left:299.00px;top:586.87px;font-size:9.1px;line-height:11px;transform:scaleX(0.9615);transform-origin:0 50%;color:#64748b;-webkit-text-stroke:0.15px #64748b"><span style="display:inline-block;width:11.2px;height:1px;position:relative"><svg width="11" height="9" viewBox="0 0 11 9" style="position:absolute;left:0;top:-7.6px"><defs><radialGradient id="eg" cx="0.6" cy="0.35" r="0.75"><stop offset="0" stop-color="#fff"/><stop offset="0.75" stop-color="#f1f1f1"/><stop offset="1" stop-color="#bdbdbd"/></radialGradient></defs><ellipse cx="2.8" cy="4.5" rx="2.5" ry="3.9" fill="url(#eg)" stroke="#9e9e9e" stroke-width="0.45"/><ellipse cx="8.2" cy="4.5" rx="2.5" ry="3.9" fill="url(#eg)" stroke="#9e9e9e" stroke-width="0.45"/><circle cx="1.9" cy="5.2" r="1.35" fill="#1c120a"/><circle cx="7.3" cy="5.2" r="1.35" fill="#1c120a"/></svg></span> Still thinking it over? Closes Wed.</div>
<div class="a " style="right:849.80px;top:578.94px;font-size:10.725px;line-height:10.725px;transform:scaleX(0.9091);transform-origin:100% 50%;color:#1e293b;-webkit-text-stroke:0.2px #1e293b">1,097</div>
<div class="a" style="left:792.40px;top:576.13px;width:26px;height:17px;border-radius:8.5px;background:#dde9fd;color:#1f3fae;font-size:11px;font-weight:700;line-height:17px;text-align:center"><span style="display:inline-block;transform:scaleX(0.89)">64</span></div>
<div class="a " style="right:707.50px;top:579.76px;font-size:9.288px;line-height:9.288px;transform:scaleX(0.9259);transform-origin:100% 50%;font-weight:700;color:#2340b0">69</div>
<div class="a " style="right:646.00px;top:579.76px;font-size:9.288px;line-height:9.288px;transform:scaleX(0.9259);transform-origin:100% 50%;font-weight:700;color:#8b4a12">58</div>
<div class="a " style="right:588.70px;top:579.86px;font-size:10.472px;line-height:10.472px;transform:scaleX(0.8929);transform-origin:100% 50%;color:#1e293b;-webkit-text-stroke:0.2px #1e293b">47.5%</div>
<div class="a" style="left:1016.2px;top:582.04px;width:44px;height:4.3px;border-radius:2.2px;background:#e2e8f0;overflow:hidden"><div style="width:20.90px;height:100%;background:#3a9b3e"></div></div>
<div class="a " style="right:482.70px;top:579.86px;font-size:10.472px;line-height:10.472px;transform:scaleX(0.8929);transform-origin:100% 50%;color:#1e293b;-webkit-text-stroke:0.2px #1e293b">0.7%</div>
<div class="a" style="left:1122px;top:582.04px;width:44px;height:4.3px;border-radius:2.2px;background:#e2e8f0;overflow:hidden"><div style="width:1.20px;height:100%;background:#c0392b"></div></div>
<div class="a " style="right:381.60px;top:578.68px;font-size:10.8px;line-height:10.8px;font-weight:700;color:#14264d">8/10</div>
<div class="a" style="left:1244px;top:574.54px;width:37.2px;height:19px;border-radius:9.5px;background:#e0f8e5;color:#2c6b34;font-size:7.3px;font-weight:700;line-height:19px;text-align:center">Strong</div>
<div class="a " style="left:1307.00px;top:578.93px;font-size:10.5px;line-height:10.5px;color:#475569;-webkit-text-stroke:0.2px #475569">Urgent</div>
<div class="a " style="right:156.80px;top:579.72px;font-size:10.4px;line-height:10.4px;color:#475569;-webkit-text-stroke:0.2px #475569">37</div>
<div class="a" style="left:1476.2px;top:576.34px;line-height:0"><svg width="14" height="14" viewBox="0 0 14 14"><defs><radialGradient id="sg" cx="0.45" cy="0.35" r="0.7"><stop offset="0" stop-color="#ffe26a"/><stop offset="0.7" stop-color="#f6c431"/><stop offset="1" stop-color="#e09a1a"/></radialGradient></defs><circle cx="7" cy="7" r="6.6" fill="url(#sg)"/><ellipse cx="4.8" cy="5" rx="0.9" ry="1.3" fill="#5a3a10"/><ellipse cx="9.2" cy="5" rx="0.9" ry="1.3" fill="#5a3a10"/><path d="M2.8 7.6 Q7 8.6 11.2 7.6 Q10.6 11.6 7 11.6 Q3.4 11.6 2.8 7.6 Z" fill="#6b3d12"/><path d="M3.3 8 Q7 8.9 10.7 8 L10.5 9.2 Q7 9.9 3.5 9.2 Z" fill="#fff"/></svg></div>
<div class="a" style="left:1525.2px;top:574.04px;width:40.6px;height:19.4px;border:1px solid #5cb25f;border-radius:3.5px"></div>
<svg class="a" style="left:1531.8px;top:580.34px" width="7" height="6" viewBox="0 0 7 6"><path d="M0.6 3.0 L2.5 4.9 L6.3 0.5" fill="none" stroke="#3a9a40" stroke-width="1.25"/></svg>
<div class="a " style="left:1541.00px;top:578.63px;font-size:8.748px;line-height:8.748px;transform:scaleX(0.9259);transform-origin:0 50%;font-weight:700;color:#2e8b36">View</div>
<div class="a" style="left:211px;top:603.95px;width:1367.5px;height:1px;background:#eff2f6"></div>
<div class="a " style="left:222.90px;top:618.97px;font-size:10.725px;line-height:10.725px;transform:scaleX(0.9091);transform-origin:0 50%;color:#334155;-webkit-text-stroke:0.2px #334155">Apr 23, 26</div>
<div class="a " style="left:299.00px;top:611.86px;font-size:10.656px;line-height:12px;transform:scaleX(0.9009);transform-origin:0 50%;font-weight:700;color:#14264d">Blitz Day 5: Be the One Who Builds the Team (April 25)</div>
<div class="a " style="left:299.00px;top:627.10px;font-size:9.1px;line-height:11px;transform:scaleX(0.9615);transform-origin:0 50%;color:#64748b;-webkit-text-stroke:0.15px #64748b">Your school needs a few more players</div>
<div class="a " style="right:849.80px;top:619.17px;font-size:10.725px;line-height:10.725px;transform:scaleX(0.9091);transform-origin:100% 50%;color:#1e293b;-webkit-text-stroke:0.2px #1e293b">320</div>
<div class="a" style="left:792.40px;top:616.37px;width:26px;height:17px;border-radius:8.5px;background:#ddf7e3;color:#2c6b34;font-size:11px;font-weight:700;line-height:17px;text-align:center"><span style="display:inline-block;transform:scaleX(0.89)">95</span></div>
<div class="a " style="right:707.50px;top:619.99px;font-size:9.288px;line-height:9.288px;transform:scaleX(0.9259);transform-origin:100% 50%;font-weight:700;color:#2c6b34">96</div>
<div class="a " style="right:646.00px;top:619.99px;font-size:9.288px;line-height:9.288px;transform:scaleX(0.9259);transform-origin:100% 50%;font-weight:700;color:#2c6b34">94</div>
<div class="a " style="right:588.70px;top:620.09px;font-size:10.472px;line-height:10.472px;transform:scaleX(0.8929);transform-origin:100% 50%;color:#1e293b;-webkit-text-stroke:0.2px #1e293b">77.5%</div>
<div class="a" style="left:1016.2px;top:622.27px;width:44px;height:4.3px;border-radius:2.2px;background:#e2e8f0;overflow:hidden"><div style="width:34.10px;height:100%;background:#3a9b3e"></div></div>
<div class="a " style="right:482.70px;top:620.09px;font-size:10.472px;line-height:10.472px;transform:scaleX(0.8929);transform-origin:100% 50%;color:#1e293b;-webkit-text-stroke:0.2px #1e293b">1.3%</div>
<div class="a" style="left:1122px;top:622.27px;width:44px;height:4.3px;border-radius:2.2px;background:#e2e8f0;overflow:hidden"><div style="width:1.20px;height:100%;background:#c0392b"></div></div>
<div class="a " style="right:381.60px;top:618.91px;font-size:10.8px;line-height:10.8px;font-weight:700;color:#14264d">8/10</div>
<div class="a" style="left:1244px;top:614.77px;width:37.2px;height:19px;border-radius:9.5px;background:#e0f8e5;color:#2c6b34;font-size:7.3px;font-weight:700;line-height:19px;text-align:center">Strong</div>
<div class="a " style="left:1307.00px;top:619.16px;font-size:10.5px;line-height:10.5px;color:#475569;-webkit-text-stroke:0.2px #475569">Nurturing</div>
<div class="a " style="right:156.80px;top:619.95px;font-size:10.4px;line-height:10.4px;color:#475569;-webkit-text-stroke:0.2px #475569">36</div>
<div class="a" style="left:1479px;top:623.17px;width:8px;height:1.2px;background:#c5cfdc"></div>
<div class="a" style="left:1525.2px;top:614.27px;width:40.6px;height:19.4px;border:1px solid #5cb25f;border-radius:3.5px"></div>
<svg class="a" style="left:1531.8px;top:620.57px" width="7" height="6" viewBox="0 0 7 6"><path d="M0.6 3.0 L2.5 4.9 L6.3 0.5" fill="none" stroke="#3a9a40" stroke-width="1.25"/></svg>
<div class="a " style="left:1541.00px;top:618.86px;font-size:8.748px;line-height:8.748px;transform:scaleX(0.9259);transform-origin:0 50%;font-weight:700;color:#2e8b36">View</div>
<div class="a" style="left:211px;top:644.18px;width:1367.5px;height:1px;background:#eff2f6"></div>
<div class="a " style="left:222.90px;top:659.20px;font-size:10.725px;line-height:10.725px;transform:scaleX(0.9091);transform-origin:0 50%;color:#334155;-webkit-text-stroke:0.2px #334155">Apr 22, 26</div>
<div class="a " style="left:299.00px;top:652.09px;font-size:10.656px;line-height:12px;transform:scaleX(0.9009);transform-origin:0 50%;font-weight:700;color:#14264d">Blitz Day 3: Your School Needs Players (April 22)</div>
<div class="a " style="left:299.00px;top:667.33px;font-size:9.1px;line-height:11px;transform:scaleX(0.9615);transform-origin:0 50%;color:#64748b;-webkit-text-stroke:0.15px #64748b">Some schools are loaded. Others need help.</div>
<div class="a " style="right:849.80px;top:659.40px;font-size:10.725px;line-height:10.725px;transform:scaleX(0.9091);transform-origin:100% 50%;color:#1e293b;-webkit-text-stroke:0.2px #1e293b">1,408</div>
<div class="a" style="left:792.40px;top:656.60px;width:26px;height:17px;border-radius:8.5px;background:#ddf7e3;color:#2c6b34;font-size:11px;font-weight:700;line-height:17px;text-align:center"><span style="display:inline-block;transform:scaleX(0.89)">84</span></div>
<div class="a " style="right:707.50px;top:660.22px;font-size:9.288px;line-height:9.288px;transform:scaleX(0.9259);transform-origin:100% 50%;font-weight:700;color:#2c6b34">88</div>
<div class="a " style="right:646.00px;top:660.22px;font-size:9.288px;line-height:9.288px;transform:scaleX(0.9259);transform-origin:100% 50%;font-weight:700;color:#2c6b34">81</div>
<div class="a " style="right:588.70px;top:660.32px;font-size:10.472px;line-height:10.472px;transform:scaleX(0.8929);transform-origin:100% 50%;color:#1e293b;-webkit-text-stroke:0.2px #1e293b">55.0%</div>
<div class="a" style="left:1016.2px;top:662.50px;width:44px;height:4.3px;border-radius:2.2px;background:#e2e8f0;overflow:hidden"><div style="width:24.20px;height:100%;background:#3a9b3e"></div></div>
<div class="a " style="right:482.70px;top:660.32px;font-size:10.472px;line-height:10.472px;transform:scaleX(0.8929);transform-origin:100% 50%;color:#1e293b;-webkit-text-stroke:0.2px #1e293b">8.0%</div>
<div class="a" style="left:1122px;top:662.50px;width:44px;height:4.3px;border-radius:2.2px;background:#e2e8f0;overflow:hidden"><div style="width:3.52px;height:100%;background:#3b82f6"></div></div>
<div class="a " style="right:381.60px;top:659.14px;font-size:10.8px;line-height:10.8px;font-weight:700;color:#14264d">8/10</div>
<div class="a" style="left:1244px;top:655.00px;width:37.2px;height:19px;border-radius:9.5px;background:#e0f8e5;color:#2c6b34;font-size:7.3px;font-weight:700;line-height:19px;text-align:center">Strong</div>
<div class="a " style="left:1307.00px;top:659.39px;font-size:10.5px;line-height:10.5px;color:#475569;-webkit-text-stroke:0.2px #475569">Nurturing</div>
<div class="a " style="right:156.80px;top:660.18px;font-size:10.4px;line-height:10.4px;color:#475569;-webkit-text-stroke:0.2px #475569">42</div>
<div class="a" style="left:1479px;top:663.40px;width:8px;height:1.2px;background:#c5cfdc"></div>
<div class="a" style="left:1525.2px;top:654.50px;width:40.6px;height:19.4px;border:1px solid #5cb25f;border-radius:3.5px"></div>
<svg class="a" style="left:1531.8px;top:660.80px" width="7" height="6" viewBox="0 0 7 6"><path d="M0.6 3.0 L2.5 4.9 L6.3 0.5" fill="none" stroke="#3a9a40" stroke-width="1.25"/></svg>
<div class="a " style="left:1541.00px;top:659.09px;font-size:8.748px;line-height:8.748px;transform:scaleX(0.9259);transform-origin:0 50%;font-weight:700;color:#2e8b36">View</div>
<div class="a" style="left:211px;top:684.41px;width:1367.5px;height:1px;background:#eff2f6"></div>
<div class="a " style="left:222.90px;top:699.43px;font-size:10.725px;line-height:10.725px;transform:scaleX(0.9091);transform-origin:0 50%;color:#334155;-webkit-text-stroke:0.2px #334155">Apr 21, 26</div>
<div class="a " style="left:299.00px;top:692.32px;font-size:10.656px;line-height:12px;transform:scaleX(0.9009);transform-origin:0 50%;font-weight:700;color:#14264d">Blitz Day 1: 280 Players Are In (April 20)</div>
<div class="a " style="left:299.00px;top:707.56px;font-size:9.1px;line-height:11px;transform:scaleX(0.9615);transform-origin:0 50%;color:#64748b;-webkit-text-stroke:0.15px #64748b">300 players registered. Is your school on the list?</div>
<div class="a " style="right:849.80px;top:699.63px;font-size:10.725px;line-height:10.725px;transform:scaleX(0.9091);transform-origin:100% 50%;color:#1e293b;-webkit-text-stroke:0.2px #1e293b">1,405</div>
<div class="a" style="left:781.50px;top:696.82px;width:26px;height:17px;border-radius:8.5px;background:#fcf0c6;color:#8b4a12;font-size:11px;font-weight:700;line-height:17px;text-align:center"><span style="display:inline-block;transform:scaleX(0.89)">56</span></div>
<div class="a" style="left:810px;top:697.82px;line-height:0"><svg width="9" height="8" viewBox="0 0 9 8"><path d="M4.5 0.8 L8.3 7.3 L0.7 7.3 Z" fill="none" stroke="#c0504d" stroke-width="0.9" stroke-linejoin="round"/><path d="M4.5 3 V5.2 M4.5 6 V6.4" stroke="#c0504d" stroke-width="0.8"/></svg></div>
<div class="a " style="right:707.50px;top:700.45px;font-size:9.288px;line-height:9.288px;transform:scaleX(0.9259);transform-origin:100% 50%;font-weight:700;color:#2c6b34">82</div>
<div class="a " style="right:646.00px;top:700.45px;font-size:9.288px;line-height:9.288px;transform:scaleX(0.9259);transform-origin:100% 50%;font-weight:700;color:#a52626">29</div>
<div class="a " style="right:588.70px;top:700.55px;font-size:10.472px;line-height:10.472px;transform:scaleX(0.8929);transform-origin:100% 50%;color:#1e293b;-webkit-text-stroke:0.2px #1e293b">53.5%</div>
<div class="a" style="left:1016.2px;top:702.73px;width:44px;height:4.3px;border-radius:2.2px;background:#e2e8f0;overflow:hidden"><div style="width:23.54px;height:100%;background:#3a9b3e"></div></div>
<div class="a " style="right:482.70px;top:700.55px;font-size:10.472px;line-height:10.472px;transform:scaleX(0.8929);transform-origin:100% 50%;color:#1e293b;-webkit-text-stroke:0.2px #1e293b">2.4%</div>
<div class="a" style="left:1122px;top:702.73px;width:44px;height:4.3px;border-radius:2.2px;background:#e2e8f0;overflow:hidden"><div style="width:1.20px;height:100%;background:#c0392b"></div></div>
<div class="a " style="right:381.60px;top:699.37px;font-size:10.8px;line-height:10.8px;font-weight:700;color:#14264d">8/10</div>
<div class="a" style="left:1244px;top:695.23px;width:37.2px;height:19px;border-radius:9.5px;background:#e0f8e5;color:#2c6b34;font-size:7.3px;font-weight:700;line-height:19px;text-align:center">Strong</div>
<div class="a " style="left:1307.00px;top:699.62px;font-size:10.5px;line-height:10.5px;color:#475569;-webkit-text-stroke:0.2px #475569">Urgent</div>
<div class="a " style="right:156.80px;top:700.41px;font-size:10.4px;line-height:10.4px;color:#475569;-webkit-text-stroke:0.2px #475569">51</div>
<div class="a " style="left:1472.60px;width:20px;text-align:center;top:700.00px;font-size:11.0px;line-height:11.0px;font-weight:700;color:#3b82f6">?</div>
<div class="a" style="left:1525.2px;top:694.73px;width:40.6px;height:19.4px;border:1px solid #5cb25f;border-radius:3.5px"></div>
<svg class="a" style="left:1531.8px;top:701.02px" width="7" height="6" viewBox="0 0 7 6"><path d="M0.6 3.0 L2.5 4.9 L6.3 0.5" fill="none" stroke="#3a9a40" stroke-width="1.25"/></svg>
<div class="a " style="left:1541.00px;top:699.32px;font-size:8.748px;line-height:8.748px;transform:scaleX(0.9259);transform-origin:0 50%;font-weight:700;color:#2e8b36">View</div>
<div class="a" style="left:211px;top:724.64px;width:1367.5px;height:1px;background:#eff2f6"></div>
<div class="a " style="left:222.90px;top:739.66px;font-size:10.725px;line-height:10.725px;transform:scaleX(0.9091);transform-origin:0 50%;color:#334155;-webkit-text-stroke:0.2px #334155">Apr 14, 26</div>
<div class="a " style="left:299.00px;top:732.55px;font-size:10.656px;line-height:12px;transform:scaleX(0.9009);transform-origin:0 50%;font-weight:700;color:#14264d">Summer 26: 4/15 Push</div>
<div class="a " style="left:299.00px;top:747.79px;font-size:9.1px;line-height:11px;transform:scaleX(0.9615);transform-origin:0 50%;color:#64748b;-webkit-text-stroke:0.15px #64748b">The thing most 8th grade players don't know yet</div>
<div class="a " style="right:849.80px;top:739.86px;font-size:10.725px;line-height:10.725px;transform:scaleX(0.9091);transform-origin:100% 50%;color:#1e293b;-webkit-text-stroke:0.2px #1e293b">1,372</div>
<div class="a" style="left:781.50px;top:737.05px;width:26px;height:17px;border-radius:8.5px;background:#dde9fd;color:#1f3fae;font-size:11px;font-weight:700;line-height:17px;text-align:center"><span style="display:inline-block;transform:scaleX(0.89)">62</span></div>
<div class="a" style="left:810px;top:738.05px;line-height:0"><svg width="9" height="8" viewBox="0 0 9 8"><path d="M4.5 0.8 L8.3 7.3 L0.7 7.3 Z" fill="none" stroke="#c0504d" stroke-width="0.9" stroke-linejoin="round"/><path d="M4.5 3 V5.2 M4.5 6 V6.4" stroke="#c0504d" stroke-width="0.8"/></svg></div>
<div class="a " style="right:707.50px;top:740.68px;font-size:9.288px;line-height:9.288px;transform:scaleX(0.9259);transform-origin:100% 50%;font-weight:700;color:#2c6b34">84</div>
<div class="a " style="right:646.00px;top:740.68px;font-size:9.288px;line-height:9.288px;transform:scaleX(0.9259);transform-origin:100% 50%;font-weight:700;color:#a52626">39</div>
<div class="a " style="right:588.70px;top:740.78px;font-size:10.472px;line-height:10.472px;transform:scaleX(0.8929);transform-origin:100% 50%;color:#1e293b;-webkit-text-stroke:0.2px #1e293b">54.6%</div>
<div class="a" style="left:1016.2px;top:742.96px;width:44px;height:4.3px;border-radius:2.2px;background:#e2e8f0;overflow:hidden"><div style="width:24.02px;height:100%;background:#3a9b3e"></div></div>
<div class="a " style="right:482.70px;top:740.78px;font-size:10.472px;line-height:10.472px;transform:scaleX(0.8929);transform-origin:100% 50%;color:#1e293b;-webkit-text-stroke:0.2px #1e293b">1.6%</div>
<div class="a" style="left:1122px;top:742.96px;width:44px;height:4.3px;border-radius:2.2px;background:#e2e8f0;overflow:hidden"><div style="width:1.20px;height:100%;background:#c0392b"></div></div>
<div class="a " style="right:381.60px;top:739.60px;font-size:10.8px;line-height:10.8px;font-weight:700;color:#14264d">8/10</div>
<div class="a" style="left:1244px;top:735.46px;width:37.2px;height:19px;border-radius:9.5px;background:#e0f8e5;color:#2c6b34;font-size:7.3px;font-weight:700;line-height:19px;text-align:center">Strong</div>
<div class="a " style="left:1307.00px;top:739.85px;font-size:10.5px;line-height:10.5px;color:#475569;-webkit-text-stroke:0.2px #475569">Nurturing</div>
<div class="a " style="right:156.80px;top:740.64px;font-size:10.4px;line-height:10.4px;color:#475569;-webkit-text-stroke:0.2px #475569">47</div>
<div class="a" style="left:1478px;top:738.75px;line-height:0"><svg width="10" height="11" viewBox="0 0 10 11"><circle cx="5" cy="6.3" r="3.6" fill="none" stroke="#c0504d" stroke-width="0.95"/><path d="M4 1.3 H6 M5 1.3 V2.6 M5 4.3 V6.4 M7.6 2.6 L8.4 3.4" stroke="#c0504d" stroke-width="1"/></svg></div>
<div class="a" style="left:1525.2px;top:734.96px;width:40.6px;height:19.4px;border:1px solid #5cb25f;border-radius:3.5px"></div>
<svg class="a" style="left:1531.8px;top:741.25px" width="7" height="6" viewBox="0 0 7 6"><path d="M0.6 3.0 L2.5 4.9 L6.3 0.5" fill="none" stroke="#3a9a40" stroke-width="1.25"/></svg>
<div class="a " style="left:1541.00px;top:739.55px;font-size:8.748px;line-height:8.748px;transform:scaleX(0.9259);transform-origin:0 50%;font-weight:700;color:#2e8b36">View</div>
<div class="a" style="left:211px;top:764.87px;width:1367.5px;height:1px;background:#eff2f6"></div>
<div class="a " style="left:222.90px;top:779.89px;font-size:10.725px;line-height:10.725px;transform:scaleX(0.9091);transform-origin:0 50%;color:#334155;-webkit-text-stroke:0.2px #334155">Apr 13, 26</div>
<div class="a " style="left:299.00px;top:772.78px;font-size:10.656px;line-height:12px;transform:scaleX(0.9009);transform-origin:0 50%;font-weight:700;color:#14264d">Summer 26: 4/13 Push</div>
<div class="a " style="left:299.00px;top:788.02px;font-size:9.1px;line-height:11px;transform:scaleX(0.9615);transform-origin:0 50%;color:#64748b;-webkit-text-stroke:0.15px #64748b">2 Weeks Left to Register for MSM -- Some Schools Already Have Two Teams</div>
<div class="a " style="right:849.80px;top:780.09px;font-size:10.725px;line-height:10.725px;transform:scaleX(0.9091);transform-origin:100% 50%;color:#1e293b;-webkit-text-stroke:0.2px #1e293b">1,362</div>
<div class="a" style="left:792.40px;top:777.28px;width:26px;height:17px;border-radius:8.5px;background:#fcf0c6;color:#8b4a12;font-size:11px;font-weight:700;line-height:17px;text-align:center"><span style="display:inline-block;transform:scaleX(0.89)">58</span></div>
<div class="a " style="right:707.50px;top:780.91px;font-size:9.288px;line-height:9.288px;transform:scaleX(0.9259);transform-origin:100% 50%;font-weight:700;color:#8b4a12">51</div>
<div class="a " style="right:646.00px;top:780.91px;font-size:9.288px;line-height:9.288px;transform:scaleX(0.9259);transform-origin:100% 50%;font-weight:700;color:#2340b0">64</div>
<div class="a " style="right:588.70px;top:781.01px;font-size:10.472px;line-height:10.472px;transform:scaleX(0.8929);transform-origin:100% 50%;color:#1e293b;-webkit-text-stroke:0.2px #1e293b">53.7%</div>
<div class="a" style="left:1016.2px;top:783.19px;width:44px;height:4.3px;border-radius:2.2px;background:#e2e8f0;overflow:hidden"><div style="width:23.63px;height:100%;background:#3a9b3e"></div></div>
<div class="a " style="right:482.70px;top:781.01px;font-size:10.472px;line-height:10.472px;transform:scaleX(0.8929);transform-origin:100% 50%;color:#1e293b;-webkit-text-stroke:0.2px #1e293b">2.8%</div>
<div class="a" style="left:1122px;top:783.19px;width:44px;height:4.3px;border-radius:2.2px;background:#e2e8f0;overflow:hidden"><div style="width:1.23px;height:100%;background:#c0392b"></div></div>
<div class="a " style="right:381.60px;top:779.83px;font-size:10.8px;line-height:10.8px;font-weight:700;color:#14264d">7/10</div>
<div class="a" style="left:1246.2px;top:775.69px;width:32.8px;height:19px;border-radius:9.5px;background:#fcf0c6;color:#8b4a12;font-size:7.6px;font-weight:700;line-height:19px;text-align:center">Good</div>
<div class="a " style="left:1307.00px;top:780.08px;font-size:10.5px;line-height:10.5px;color:#475569;-webkit-text-stroke:0.2px #475569">Urgent</div>
<div class="a " style="right:156.80px;top:780.87px;font-size:10.4px;line-height:10.4px;color:#475569;-webkit-text-stroke:0.2px #475569">71</div>
<div class="a" style="left:1478px;top:778.99px;line-height:0"><svg width="10" height="11" viewBox="0 0 10 11"><circle cx="5" cy="6.3" r="3.6" fill="none" stroke="#c0504d" stroke-width="0.95"/><path d="M4 1.3 H6 M5 1.3 V2.6 M5 4.3 V6.4 M7.6 2.6 L8.4 3.4" stroke="#c0504d" stroke-width="1"/></svg></div>
<div class="a" style="left:1525.2px;top:775.19px;width:40.6px;height:19.4px;border:1px solid #5cb25f;border-radius:3.5px"></div>
<svg class="a" style="left:1531.8px;top:781.49px" width="7" height="6" viewBox="0 0 7 6"><path d="M0.6 3.0 L2.5 4.9 L6.3 0.5" fill="none" stroke="#3a9a40" stroke-width="1.25"/></svg>
<div class="a " style="left:1541.00px;top:779.78px;font-size:8.748px;line-height:8.748px;transform:scaleX(0.9259);transform-origin:0 50%;font-weight:700;color:#2e8b36">View</div>
<div class="a" style="left:211px;top:805.10px;width:1367.5px;height:1px;background:#eff2f6"></div>
<div class="a " style="left:222.90px;top:820.12px;font-size:10.725px;line-height:10.725px;transform:scaleX(0.9091);transform-origin:0 50%;color:#334155;-webkit-text-stroke:0.2px #334155">Apr 9, 26</div>
<div class="a " style="left:299.00px;top:813.01px;font-size:10.656px;line-height:12px;transform:scaleX(0.9009);transform-origin:0 50%;font-weight:700;color:#14264d">Summer 26: VIP Not Registered (April)</div>
<div class="a " style="left:299.00px;top:828.25px;font-size:9.1px;line-height:11px;transform:scaleX(0.9615);transform-origin:0 50%;color:#64748b;-webkit-text-stroke:0.15px #64748b">Your spot is not saved yet</div>
<div class="a " style="right:849.80px;top:820.32px;font-size:10.725px;line-height:10.725px;transform:scaleX(0.9091);transform-origin:100% 50%;color:#1e293b;-webkit-text-stroke:0.2px #1e293b">64</div>
<div class="a" style="left:781.50px;top:817.51px;width:26px;height:17px;border-radius:8.5px;background:#dde9fd;color:#1f3fae;font-size:11px;font-weight:700;line-height:17px;text-align:center"><span style="display:inline-block;transform:scaleX(0.89)">66</span></div>
<div class="a" style="left:810px;top:818.51px;line-height:0"><svg width="9" height="8" viewBox="0 0 9 8"><path d="M4.5 0.8 L8.3 7.3 L0.7 7.3 Z" fill="none" stroke="#c0504d" stroke-width="0.9" stroke-linejoin="round"/><path d="M4.5 3 V5.2 M4.5 6 V6.4" stroke="#c0504d" stroke-width="0.8"/></svg></div>
<div class="a " style="right:707.50px;top:821.14px;font-size:9.288px;line-height:9.288px;transform:scaleX(0.9259);transform-origin:100% 50%;font-weight:700;color:#2340b0">76</div>
<div class="a " style="right:646.00px;top:821.14px;font-size:9.288px;line-height:9.288px;transform:scaleX(0.9259);transform-origin:100% 50%;font-weight:700;color:#8b4a12">55</div>
<div class="a " style="right:588.70px;top:821.24px;font-size:10.472px;line-height:10.472px;transform:scaleX(0.8929);transform-origin:100% 50%;color:#1e293b;-webkit-text-stroke:0.2px #1e293b">48.4%</div>
<div class="a" style="left:1016.2px;top:823.41px;width:44px;height:4.3px;border-radius:2.2px;background:#e2e8f0;overflow:hidden"><div style="width:21.30px;height:100%;background:#3a9b3e"></div></div>
<div class="a " style="right:482.70px;top:821.24px;font-size:10.472px;line-height:10.472px;transform:scaleX(0.8929);transform-origin:100% 50%;color:#1e293b;-webkit-text-stroke:0.2px #1e293b">6.3%</div>
<div class="a" style="left:1122px;top:823.41px;width:44px;height:4.3px;border-radius:2.2px;background:#e2e8f0;overflow:hidden"><div style="width:2.77px;height:100%;background:#3b82f6"></div></div>
<div class="a " style="right:381.60px;top:820.06px;font-size:10.8px;line-height:10.8px;font-weight:700;color:#14264d">8/10</div>
<div class="a" style="left:1244px;top:815.91px;width:37.2px;height:19px;border-radius:9.5px;background:#e0f8e5;color:#2c6b34;font-size:7.3px;font-weight:700;line-height:19px;text-align:center">Strong</div>
<div class="a " style="left:1307.00px;top:820.31px;font-size:10.5px;line-height:10.5px;color:#475569;-webkit-text-stroke:0.2px #475569">Urgent</div>
<div class="a " style="right:156.80px;top:821.10px;font-size:10.4px;line-height:10.4px;color:#475569;-webkit-text-stroke:0.2px #475569">26</div>
<div class="a" style="left:1479px;top:824.31px;width:8px;height:1.2px;background:#c5cfdc"></div>
<div class="a" style="left:1525.2px;top:815.41px;width:40.6px;height:19.4px;border:1px solid #5cb25f;border-radius:3.5px"></div>
<svg class="a" style="left:1531.8px;top:821.71px" width="7" height="6" viewBox="0 0 7 6"><path d="M0.6 3.0 L2.5 4.9 L6.3 0.5" fill="none" stroke="#3a9a40" stroke-width="1.25"/></svg>
<div class="a " style="left:1541.00px;top:820.01px;font-size:8.748px;line-height:8.748px;transform:scaleX(0.9259);transform-origin:0 50%;font-weight:700;color:#2e8b36">View</div>
<div class="a" style="left:211px;top:845.33px;width:1367.5px;height:1px;background:#eff2f6"></div>
<div class="a " style="left:222.90px;top:860.35px;font-size:10.725px;line-height:10.725px;transform:scaleX(0.9091);transform-origin:0 50%;color:#334155;-webkit-text-stroke:0.2px #334155">Apr 9, 26</div>
<div class="a " style="left:299.00px;top:853.24px;font-size:10.656px;line-height:12px;transform:scaleX(0.9009);transform-origin:0 50%;font-weight:700;color:#14264d">Summer 26: April Share with Friends Push</div>
<div class="a " style="left:299.00px;top:868.48px;font-size:9.1px;line-height:11px;transform:scaleX(0.9615);transform-origin:0 50%;color:#64748b;-webkit-text-stroke:0.15px #64748b">Your school needs more players (and their rivals do too)</div>
<div class="a " style="right:849.80px;top:860.55px;font-size:10.725px;line-height:10.725px;transform:scaleX(0.9091);transform-origin:100% 50%;color:#1e293b;-webkit-text-stroke:0.2px #1e293b">241</div>
<div class="a" style="left:781.50px;top:857.74px;width:26px;height:17px;border-radius:8.5px;background:#dde9fd;color:#1f3fae;font-size:11px;font-weight:700;line-height:17px;text-align:center"><span style="display:inline-block;transform:scaleX(0.89)">76</span></div>
<div class="a" style="left:810px;top:858.74px;line-height:0"><svg width="9" height="8" viewBox="0 0 9 8"><path d="M4.5 0.8 L8.3 7.3 L0.7 7.3 Z" fill="none" stroke="#c0504d" stroke-width="0.9" stroke-linejoin="round"/><path d="M4.5 3 V5.2 M4.5 6 V6.4" stroke="#c0504d" stroke-width="0.8"/></svg></div>
<div class="a " style="right:707.50px;top:861.37px;font-size:9.288px;line-height:9.288px;transform:scaleX(0.9259);transform-origin:100% 50%;font-weight:700;color:#2c6b34">93</div>
<div class="a " style="right:646.00px;top:861.37px;font-size:9.288px;line-height:9.288px;transform:scaleX(0.9259);transform-origin:100% 50%;font-weight:700;color:#2340b0">60</div>
<div class="a " style="right:588.70px;top:861.47px;font-size:10.472px;line-height:10.472px;transform:scaleX(0.8929);transform-origin:100% 50%;color:#1e293b;-webkit-text-stroke:0.2px #1e293b">72.6%</div>
<div class="a" style="left:1016.2px;top:863.64px;width:44px;height:4.3px;border-radius:2.2px;background:#e2e8f0;overflow:hidden"><div style="width:31.94px;height:100%;background:#3a9b3e"></div></div>
<div class="a " style="right:482.70px;top:861.47px;font-size:10.472px;line-height:10.472px;transform:scaleX(0.8929);transform-origin:100% 50%;color:#1e293b;-webkit-text-stroke:0.2px #1e293b">6.2%</div>
<div class="a" style="left:1122px;top:863.64px;width:44px;height:4.3px;border-radius:2.2px;background:#e2e8f0;overflow:hidden"><div style="width:2.73px;height:100%;background:#3b82f6"></div></div>
<div class="a " style="right:381.60px;top:860.29px;font-size:10.8px;line-height:10.8px;font-weight:700;color:#14264d">7/10</div>
<div class="a" style="left:1244px;top:856.14px;width:37.2px;height:19px;border-radius:9.5px;background:#e0f8e5;color:#2c6b34;font-size:7.3px;font-weight:700;line-height:19px;text-align:center">Strong</div>
<div class="a " style="left:1307.00px;top:860.54px;font-size:10.5px;line-height:10.5px;color:#475569;-webkit-text-stroke:0.2px #475569">Nurturing</div>
<div class="a " style="right:156.80px;top:861.33px;font-size:10.4px;line-height:10.4px;color:#475569;-webkit-text-stroke:0.2px #475569">56</div>
<div class="a" style="left:1479px;top:864.54px;width:8px;height:1.2px;background:#c5cfdc"></div>
<div class="a" style="left:1525.2px;top:855.64px;width:40.6px;height:19.4px;border:1px solid #5cb25f;border-radius:3.5px"></div>
<svg class="a" style="left:1531.8px;top:861.94px" width="7" height="6" viewBox="0 0 7 6"><path d="M0.6 3.0 L2.5 4.9 L6.3 0.5" fill="none" stroke="#3a9a40" stroke-width="1.25"/></svg>
<div class="a " style="left:1541.00px;top:860.24px;font-size:8.748px;line-height:8.748px;transform:scaleX(0.9259);transform-origin:0 50%;font-weight:700;color:#2e8b36">View</div>
<div class="a" style="left:211px;top:885.56px;width:1367.5px;height:1px;background:#eff2f6"></div>
<div class="a " style="left:222.90px;top:900.58px;font-size:10.725px;line-height:10.725px;transform:scaleX(0.9091);transform-origin:0 50%;color:#334155;-webkit-text-stroke:0.2px #334155">Apr 6, 26</div>
<div class="a " style="left:299.00px;top:893.47px;font-size:10.656px;line-height:12px;transform:scaleX(0.9009);transform-origin:0 50%;font-weight:700;color:#14264d">Copy of Copy of Copy of Summer 26: Spring Break Push</div>
<div class="a " style="left:299.00px;top:908.71px;font-size:9.1px;line-height:11px;transform:scaleX(0.9615);transform-origin:0 50%;color:#64748b;-webkit-text-stroke:0.15px #64748b">23 days left to register for MSM DFW West Summer 2026</div>
<div class="a " style="right:849.80px;top:900.78px;font-size:10.725px;line-height:10.725px;transform:scaleX(0.9091);transform-origin:100% 50%;color:#1e293b;-webkit-text-stroke:0.2px #1e293b">1,106</div>
<div class="a" style="left:792.40px;top:897.97px;width:26px;height:17px;border-radius:8.5px;background:#fbe3e3;color:#a52626;font-size:11px;font-weight:700;line-height:17px;text-align:center"><span style="display:inline-block;transform:scaleX(0.89)">23</span></div>
<div class="a " style="right:707.50px;top:901.60px;font-size:9.288px;line-height:9.288px;transform:scaleX(0.9259);transform-origin:100% 50%;font-weight:700;color:#a52626">24</div>
<div class="a " style="right:646.00px;top:901.60px;font-size:9.288px;line-height:9.288px;transform:scaleX(0.9259);transform-origin:100% 50%;font-weight:700;color:#a52626">22</div>
<div class="a " style="right:588.70px;top:901.70px;font-size:10.472px;line-height:10.472px;transform:scaleX(0.8929);transform-origin:100% 50%;color:#1e293b;-webkit-text-stroke:0.2px #1e293b">50.2%</div>
<div class="a" style="left:1016.2px;top:903.88px;width:44px;height:4.3px;border-radius:2.2px;background:#e2e8f0;overflow:hidden"><div style="width:22.09px;height:100%;background:#3a9b3e"></div></div>
<div class="a " style="right:482.70px;top:901.70px;font-size:10.472px;line-height:10.472px;transform:scaleX(0.8929);transform-origin:100% 50%;color:#1e293b;-webkit-text-stroke:0.2px #1e293b">2.1%</div>
<div class="a" style="left:1122px;top:903.88px;width:44px;height:4.3px;border-radius:2.2px;background:#e2e8f0;overflow:hidden"><div style="width:1.20px;height:100%;background:#c0392b"></div></div>
<div class="a " style="right:381.60px;top:900.52px;font-size:10.8px;line-height:10.8px;font-weight:700;color:#14264d">4/10</div>
<div class="a" style="left:1246.2px;top:896.38px;width:32.8px;height:19px;border-radius:9.5px;background:#fcf0c6;color:#8b4a12;font-size:7.6px;font-weight:700;line-height:19px;text-align:center">Good</div>
<div class="a " style="left:1307.00px;top:900.77px;font-size:10.5px;line-height:10.5px;color:#475569;-webkit-text-stroke:0.2px #475569">Informational</div>
<div class="a " style="right:156.80px;top:901.56px;font-size:10.4px;line-height:10.4px;color:#475569;-webkit-text-stroke:0.2px #475569">53</div>
<div class="a" style="left:1478px;top:899.67px;line-height:0"><svg width="10" height="11" viewBox="0 0 10 11"><circle cx="5" cy="6.3" r="3.6" fill="none" stroke="#c0504d" stroke-width="0.95"/><path d="M4 1.3 H6 M5 1.3 V2.6 M5 4.3 V6.4 M7.6 2.6 L8.4 3.4" stroke="#c0504d" stroke-width="1"/></svg></div>
<div class="a" style="left:1525.2px;top:895.88px;width:40.6px;height:19.4px;border:1px solid #5cb25f;border-radius:3.5px"></div>
<svg class="a" style="left:1531.8px;top:902.17px" width="7" height="6" viewBox="0 0 7 6"><path d="M0.6 3.0 L2.5 4.9 L6.3 0.5" fill="none" stroke="#3a9a40" stroke-width="1.25"/></svg>
<div class="a " style="left:1541.00px;top:900.47px;font-size:8.748px;line-height:8.748px;transform:scaleX(0.9259);transform-origin:0 50%;font-weight:700;color:#2e8b36">View</div>
<div class="a" style="left:211px;top:925.79px;width:1367.5px;height:1px;background:#eff2f6"></div>
<div class="a " style="left:222.90px;top:940.81px;font-size:10.725px;line-height:10.725px;transform:scaleX(0.9091);transform-origin:0 50%;color:#334155;-webkit-text-stroke:0.2px #334155">Apr 6, 26</div>
<div class="a " style="left:299.00px;top:933.70px;font-size:10.656px;line-height:12px;transform:scaleX(0.9009);transform-origin:0 50%;font-weight:700;color:#14264d">Copy of Copy of Summer 26: Spring Break Push</div>
<div class="a " style="left:299.00px;top:948.94px;font-size:9.1px;line-height:11px;transform:scaleX(0.9615);transform-origin:0 50%;color:#64748b;-webkit-text-stroke:0.15px #64748b">23 days left to register for MSM DFW West Summer 2026</div>
<div class="a " style="right:849.80px;top:941.01px;font-size:10.725px;line-height:10.725px;transform:scaleX(0.9091);transform-origin:100% 50%;color:#1e293b;-webkit-text-stroke:0.2px #1e293b">1,106</div>
<div class="a" style="left:792.40px;top:938.20px;width:26px;height:17px;border-radius:8.5px;background:#dde9fd;color:#1f3fae;font-size:11px;font-weight:700;line-height:17px;text-align:center"><span style="display:inline-block;transform:scaleX(0.89)">70</span></div>
<div class="a " style="right:707.50px;top:941.83px;font-size:9.288px;line-height:9.288px;transform:scaleX(0.9259);transform-origin:100% 50%;font-weight:700;color:#2340b0">70</div>
<div class="a " style="right:646.00px;top:941.83px;font-size:9.288px;line-height:9.288px;transform:scaleX(0.9259);transform-origin:100% 50%;font-weight:700;color:#2340b0">70</div>
<div class="a " style="right:588.70px;top:941.93px;font-size:10.472px;line-height:10.472px;transform:scaleX(0.8929);transform-origin:100% 50%;color:#1e293b;-webkit-text-stroke:0.2px #1e293b">50.0%</div>
<div class="a" style="left:1016.2px;top:944.11px;width:44px;height:4.3px;border-radius:2.2px;background:#e2e8f0;overflow:hidden"><div style="width:22.00px;height:100%;background:#3a9b3e"></div></div>
<div class="a " style="right:482.70px;top:941.93px;font-size:10.472px;line-height:10.472px;transform:scaleX(0.8929);transform-origin:100% 50%;color:#1e293b;-webkit-text-stroke:0.2px #1e293b">2.0%</div>
<div class="a" style="left:1122px;top:944.11px;width:44px;height:4.3px;border-radius:2.2px;background:#e2e8f0;overflow:hidden"><div style="width:1.20px;height:100%;background:#c0392b"></div></div>
<div class="a " style="right:381.60px;top:940.75px;font-size:10.8px;line-height:10.8px;font-weight:700;color:#14264d">7/10</div>
<div class="a" style="left:1244px;top:936.61px;width:37.2px;height:19px;border-radius:9.5px;background:#e0f8e5;color:#2c6b34;font-size:7.3px;font-weight:700;line-height:19px;text-align:center">Strong</div>
<div class="a " style="left:1307.00px;top:941.00px;font-size:10.5px;line-height:10.5px;color:#475569;-webkit-text-stroke:0.2px #475569">Urgent</div>
<div class="a " style="right:156.80px;top:941.79px;font-size:10.4px;line-height:10.4px;color:#475569;-webkit-text-stroke:0.2px #475569">50</div>
<div class="a" style="left:1478px;top:939.90px;line-height:0"><svg width="10" height="11" viewBox="0 0 10 11"><circle cx="5" cy="6.3" r="3.6" fill="none" stroke="#c0504d" stroke-width="0.95"/><path d="M4 1.3 H6 M5 1.3 V2.6 M5 4.3 V6.4 M7.6 2.6 L8.4 3.4" stroke="#c0504d" stroke-width="1"/></svg></div>
<div class="a" style="left:1525.2px;top:936.11px;width:40.6px;height:19.4px;border:1px solid #5cb25f;border-radius:3.5px"></div>
<svg class="a" style="left:1531.8px;top:942.40px" width="7" height="6" viewBox="0 0 7 6"><path d="M0.6 3.0 L2.5 4.9 L6.3 0.5" fill="none" stroke="#3a9a40" stroke-width="1.25"/></svg>
<div class="a " style="left:1541.00px;top:940.70px;font-size:8.748px;line-height:8.748px;transform:scaleX(0.9259);transform-origin:0 50%;font-weight:700;color:#2e8b36">View</div>
<div class="a" style="left:1578px;top:0;width:22px;height:939px;background:linear-gradient(90deg,rgba(30,35,45,0) 0%,rgba(30,35,45,0.02) 40%,rgba(30,35,45,0.09) 100%)"></div>
</body></html>
